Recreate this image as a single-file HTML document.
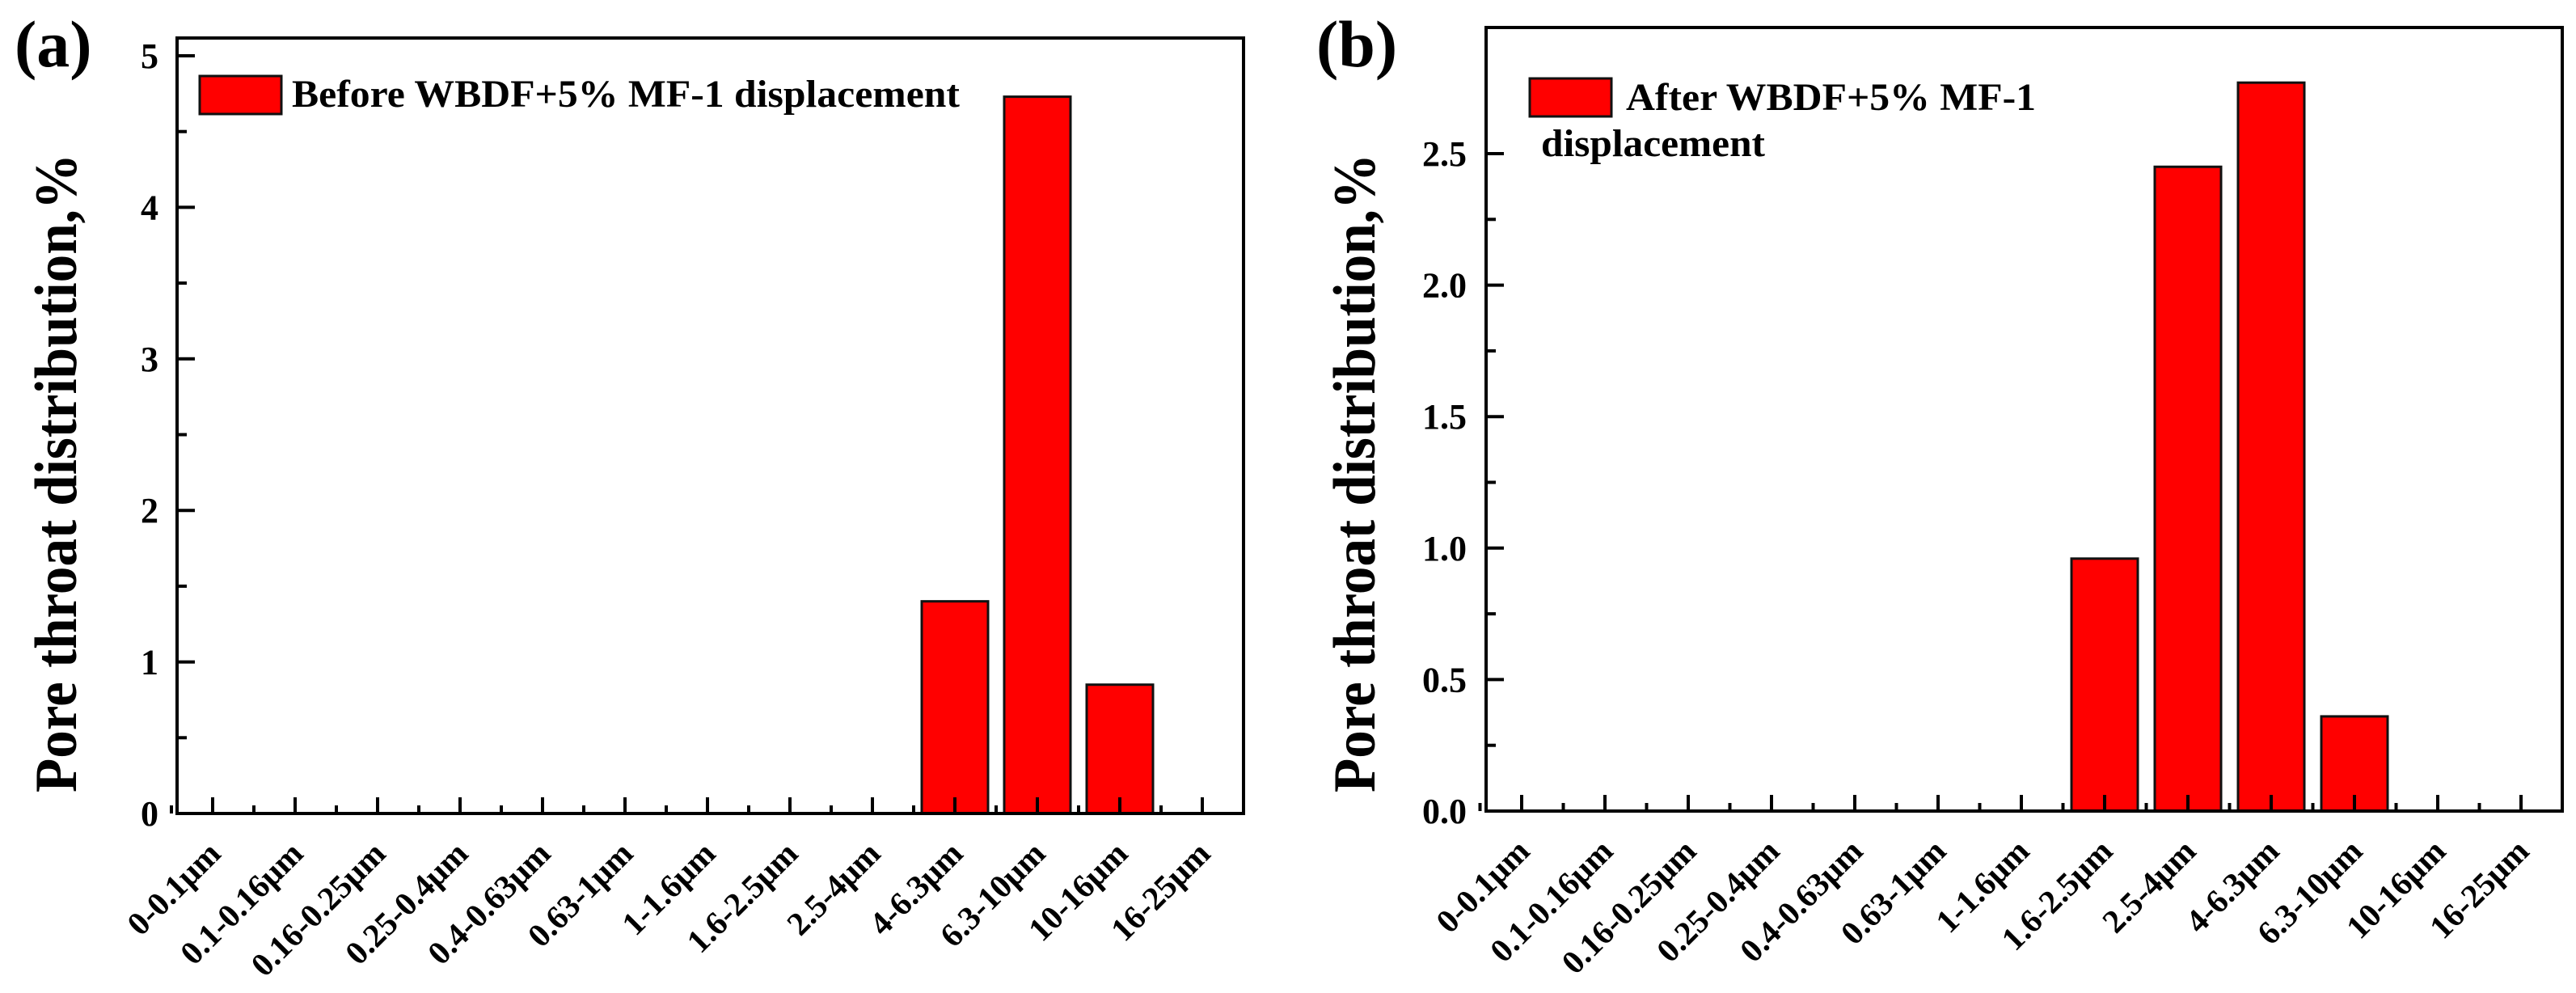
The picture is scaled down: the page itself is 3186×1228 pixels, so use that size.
<!DOCTYPE html>
<html><head><meta charset="utf-8"><style>
html,body{margin:0;padding:0;background:#fff;}
svg{display:block;font-family:"Liberation Serif",serif;font-weight:bold;}
</style></head><body>
<svg id="chart" width="3186" height="1228" viewBox="0 0 3186 1228" xmlns="http://www.w3.org/2000/svg">
<g id="pa"></g>
<g id="pb"></g>
</svg>
<script>
const categories = ["0-0.1μm","0.1-0.16μm","0.16-0.25μm","0.25-0.4μm","0.4-0.63μm","0.63-1μm","1-1.6μm","1.6-2.5μm","2.5-4μm","4-6.3μm","6.3-10μm","10-16μm","16-25μm"];
const valuesA = [0,0,0,0,0,0,0,0,0,1.4,4.73,0.85,0];
const valuesB = [0,0,0,0,0,0,0,0.96,2.45,2.77,0.36,0,0];
const ticksA = [0,1,2,3,4,5];
const tickLabelsA = ["0","1","2","3","4","5"];
const ticksB = [0,0.5,1.0,1.5,2.0,2.5];
const tickLabelsB = ["0.0","0.5","1.0","1.5","2.0","2.5"];
const legendA = ["Before WBDF+5% MF-1 displacement"];
const legendB = ["After WBDF+5% MF-1","displacement"];

const NS="http://www.w3.org/2000/svg";
function mk(parent,tag,attrs,text){const e=document.createElementNS(NS,tag);for(const k in attrs)e.setAttribute(k,attrs[k]);if(text!==undefined)e.textContent=text;parent.appendChild(e);return e;}

function panel(g,cfg){
  const {L,R,T,B,x0,dx,y0px,yUnit,vals,ticks,tlabels,minorStep,label,labelX,labelY,ytitleX,leg,legTexts,tickLabelRight}=cfg;
  const xs=i=>x0+i*dx;
  const ys=v=>y0px-v*yUnit;
  vals.forEach((v,i)=>{
    if(v<=0)return;
    const r=mk(g,'rect',{x:xs(i)-41,y:ys(v),width:82,height:ys(0)-ys(v),fill:'#ff0000',stroke:'#111','stroke-width':3});
    
    
  });
  const f=mk(g,'rect',{x:L,y:T,width:R-L,height:B-T,fill:'none',stroke:'#000','stroke-width':4});
  
  
  ticks.forEach((t,i)=>{
    mk(g,'line',{x1:L,x2:L+22,y1:ys(t),y2:ys(t),stroke:'#000','stroke-width':4});
    const tx=mk(g,'text',{x:tickLabelRight,y:ys(t)+15,'text-anchor':'end','font-size':44},tlabels[i]);
    
    
  });
  for(let v=minorStep;v<ticks[ticks.length-1]+minorStep;v+=minorStep*2){
    if(ys(v)>T) mk(g,'line',{x1:L,x2:L+12,y1:ys(v),y2:ys(v),stroke:'#000','stroke-width':4});
  }
  categories.forEach((c,i)=>{
    mk(g,'line',{x1:xs(i),x2:xs(i),y1:B,y2:B-20,stroke:'#000','stroke-width':4});
    mk(g,'line',{x1:xs(i)-dx/2,x2:xs(i)-dx/2,y1:B,y2:B-10,stroke:'#000','stroke-width':4});
    const tx=mk(g,'text',{x:0,y:0,'text-anchor':'end','font-size':41,transform:`translate(${xs(i)+12},${B+52}) rotate(-45)`},c);
    
    
  });
  const yt=mk(g,'text',{x:0,y:0,'text-anchor':'middle','font-size':74,textLength:790,lengthAdjust:'spacingAndGlyphs',transform:`translate(${ytitleX},585) rotate(-90)`},'Pore throat distribution,%');
  
  
  const pl=mk(g,'text',{x:labelX,y:labelY,'font-size':82},label);
  
  
  const lb=mk(g,'rect',{x:leg.x,y:leg.y,width:101,height:47,fill:'#ff0000',stroke:'#111','stroke-width':3});
  
  
  legTexts.forEach((t,i)=>{
    const lt=mk(g,'text',{x:leg.tx[i],y:leg.ty[i],'font-size':48,textLength:leg.tw[i],lengthAdjust:'spacingAndGlyphs'},t);
    
    
  });
}

panel(document.getElementById('pa'),{L:219,R:1538,T:47,B:1006,x0:263,dx:102,y0px:1006,yUnit:187.4,vals:valuesA,ticks:ticksA,tlabels:tickLabelsA,minorStep:0.5,label:'(a)',labelX:18,labelY:82,ytitleX:94,leg:{x:247,y:94,tx:[361],ty:[132],tw:[826]},legTexts:legendA,tickLabelRight:196});
panel(document.getElementById('pb'),{L:1838,R:3169,T:34,B:1003,x0:1882,dx:103,y0px:1003,yUnit:325.2,vals:valuesB,ticks:ticksB,tlabels:tickLabelsB,minorStep:0.25,label:'(b)',labelX:1628,labelY:82,ytitleX:1700,leg:{x:1892,y:97,tx:[2011,1906],ty:[136,193],tw:[507,277]},legTexts:legendB,tickLabelRight:1814});
</script>
</body></html>
